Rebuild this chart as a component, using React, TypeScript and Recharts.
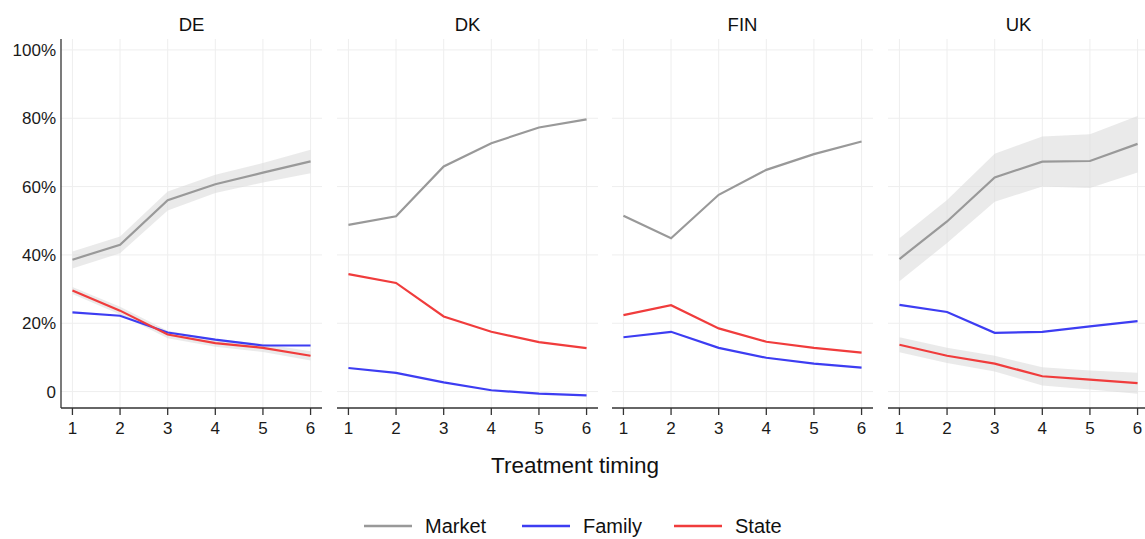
import React from 'react';
import { ComposedChart, Line, Area, XAxis, YAxis, CartesianGrid } from 'recharts';

const timing = [1, 2, 3, 4, 5, 6];
const yTicks = [0, 20, 40, 60, 80, 100];
const countries = ['DE', 'DK', 'FIN', 'UK'];
const seriesNames = ['Market', 'Family', 'State'];

const deMarket = [38.6, 43.0, 56.0, 60.7, 64.1, 67.4];
const deMarketLo = [36.0, 40.5, 53.0, 58.1, 61.2, 63.9];
const deMarketHi = [41.0, 45.4, 58.6, 63.5, 66.9, 70.8];
const deFamily = [23.2, 22.2, 17.3, 15.2, 13.5, 13.5];
const deState = [29.6, 23.7, 16.7, 14.2, 12.8, 10.5];
const deStateLo = [28.6, 22.6, 15.6, 13.1, 11.6, 9.1];
const deStateHi = [30.6, 24.8, 17.8, 15.3, 14.0, 11.8];

const dkMarket = [48.8, 51.3, 65.9, 72.7, 77.3, 79.7];
const dkFamily = [6.9, 5.5, 2.7, 0.4, -0.6, -1.1];
const dkState = [34.4, 31.8, 22.0, 17.5, 14.5, 12.7];

const finMarket = [51.5, 44.9, 57.6, 64.9, 69.5, 73.2];
const finFamily = [15.9, 17.5, 12.8, 9.9, 8.2, 7.0];
const finState = [22.4, 25.3, 18.5, 14.6, 12.8, 11.4];

const ukMarket = [38.8, 49.8, 62.7, 67.3, 67.5, 72.5];
const ukMarketLo = [32.3, 43.5, 55.6, 60.0, 59.6, 64.1];
const ukMarketHi = [44.9, 56.1, 69.6, 74.7, 75.3, 80.7];
const ukFamily = [25.4, 23.3, 17.2, 17.5, 19.1, 20.6];
const ukState = [13.7, 10.5, 8.2, 4.5, 3.5, 2.5];
const ukStateLo = [11.5, 8.4, 5.9, 1.8, 0.6, -0.6];
const ukStateHi = [15.9, 12.8, 10.5, 7.1, 6.2, 5.5];

const COLORS = { Market: '#999999', Family: '#3d3df2', State: '#f03c3c' };
const FONT = '"Liberation Sans", Arial, sans-serif';

type Arr = number[] | null;
function build(m: number[], f: number[], s: number[], mLo: Arr, mHi: Arr, sLo: Arr, sHi: Arr) {
  return timing.map((t, i) => ({
    t,
    market: m[i],
    family: f[i],
    state: s[i],
    marketBand: mLo && mHi ? [mLo[i], mHi[i]] : null,
    stateBand: sLo && sHi ? [sLo[i], sHi[i]] : null,
  }));
}

const panels = [
  { name: countries[0], data: build(deMarket, deFamily, deState, deMarketLo, deMarketHi, deStateLo, deStateHi), left: 0, showY: true },
  { name: countries[1], data: build(dkMarket, dkFamily, dkState, null, null, null, null), left: 337, showY: false },
  { name: countries[2], data: build(finMarket, finFamily, finState, null, null, null, null), left: 612, showY: false },
  { name: countries[3], data: build(ukMarket, ukFamily, ukState, ukMarketLo, ukMarketHi, ukStateLo, ukStateHi), left: 888, showY: false },
];

const Y_W = 61;
const PLOT_W = 261;
const TOP = 39;
const XH = 30;
const PLOT_H = 369;

function Panel({ p }: { p: any }) {
  const width = (p.showY ? Y_W : 0) + PLOT_W + 1;
  const hasMB = p.data[0].marketBand !== null;
  const hasSB = p.data[0].stateBand !== null;
  return (
    <div style={{ position: 'absolute', left: p.left, top: 0 }}>
      <ComposedChart width={width} height={TOP + PLOT_H + XH} data={p.data}
        margin={{ top: TOP, right: 1, bottom: 0, left: 0 }}>
        <CartesianGrid stroke="#eeeeee" strokeWidth={1} horizontalValues={yTicks} verticalValues={timing} />
        <XAxis dataKey="t" type="number" domain={[0.76, 6.24]} ticks={timing} allowDataOverflow
          height={XH} axisLine={{ stroke: '#333', strokeWidth: 1.3 }} tickLine={{ stroke: '#333', strokeWidth: 1.3 }}
          tickSize={7} tickMargin={7} tick={{ fill: '#1a1a1a', fontSize: 17, fontFamily: FONT }} interval={0} />
        <YAxis type="number" domain={[-4.8, 103.2]} ticks={yTicks} allowDataOverflow hide={!p.showY}
          width={Y_W} axisLine={{ stroke: '#333', strokeWidth: 1.3 }} tickLine={false} tickSize={0} tickMargin={5}
          tick={{ fill: '#1a1a1a', fontSize: 17, fontFamily: FONT }}
          tickFormatter={(v: number) => (v === 0 ? '0' : `${v}%`)} interval={0} />
        {hasMB && <Area dataKey="marketBand" stroke="none" fill="#dcdcdc" fillOpacity={0.6} isAnimationActive={false} activeDot={false} />}
        {hasSB && <Area dataKey="stateBand" stroke="none" fill="#dcdcdc" fillOpacity={0.6} isAnimationActive={false} activeDot={false} />}
        <Line dataKey="market" stroke={COLORS.Market} strokeWidth={2.2} dot={false} type="linear" isAnimationActive={false} />
        <Line dataKey="family" stroke={COLORS.Family} strokeWidth={2.2} dot={false} type="linear" isAnimationActive={false} />
        <Line dataKey="state" stroke={COLORS.State} strokeWidth={2.2} dot={false} type="linear" isAnimationActive={false} />
      </ComposedChart>
      <div style={{ position: 'absolute', top: 14, left: p.showY ? Y_W : 0, width: PLOT_W, textAlign: 'center',
        fontFamily: FONT, fontSize: 18.5, color: '#111', lineHeight: '22px' }}>{p.name}</div>
    </div>
  );
}

const legendX = [364, 522, 674];

export default function App() {
  return (
    <div style={{ position: 'absolute', left: 0, top: 0, width: 1145, height: 539, overflow: 'hidden', background: '#fff' }}>
      {panels.map((p) => <Panel key={p.name} p={p} />)}
      <svg width={1145} height={539} style={{ position: 'absolute', left: 0, top: 0, pointerEvents: 'none' }}>
        <text x={575} y={473} textAnchor="middle" fontFamily={FONT} fontSize={22.5} fill="#111">Treatment timing</text>
        {seriesNames.map((n, i) => (
          <g key={n}>
            <line x1={legendX[i]} x2={legendX[i] + 48} y1={526} y2={526} stroke={(COLORS as any)[n]} strokeWidth={2.5} />
            <text x={legendX[i] + 61} y={533} fontFamily={FONT} fontSize={20} fill="#111">{n}</text>
          </g>
        ))}
      </svg>
    </div>
  );
}
